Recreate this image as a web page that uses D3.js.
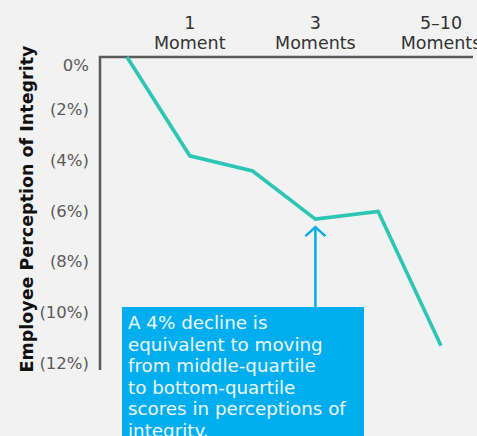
<!DOCTYPE html>
<html>
<head>
<meta charset="utf-8">
<script src="https://cdn.jsdelivr.net/npm/d3@7/dist/d3.min.js"></script>
<style>
  html, body { margin: 0; padding: 0; background: #f2f2f2; }
  svg { display: block; }
</style>
</head>
<body>
<svg id="chart" width="477" height="436"></svg>
<script>
// Number of integrity moments experienced (0 through 5–10)
const steps = [0, 1, 2, 3, 4, 5];
// Change in employee perception of integrity (%)
const perception = [0, -3.9, -4.5, -6.4, -6.1, -11.4];
// Column headers shown above the plot
const topTickSteps = [1, 3, 5];
const topTickLines = [["1", "Moment"], ["3", "Moments"], ["5–10", "Moments"]];
// Vertical axis ticks
const yTicks = [0, -2, -4, -6, -8, -10, -12];
const yTitle = "Employee Perception of Integrity";
const noteLines = [
  "A 4% decline is",
  "equivalent to moving",
  "from middle-quartile",
  "to bottom-quartile",
  "scores in perceptions of",
  "integrity."
];
const noteStep = 3;

const svg = d3.select("#chart");
const font = "'DejaVu Sans', sans-serif";
const teal = "#2dc5b3";
const blue = "#00aeef";
const axisGrey = "#5a5a5a";

const x = d3.scalePoint().domain(steps).range([127, 441]);
const y = d3.scaleLinear().domain([0, -12]).range([57, 361]);

// Axis frame: top rule and left rule
svg.append("line")
  .attr("x1", 99).attr("x2", 473).attr("y1", 57).attr("y2", 57)
  .attr("stroke", axisGrey).attr("stroke-width", 2.5);
svg.append("line")
  .attr("x1", 100).attr("x2", 100).attr("y1", 56).attr("y2", 370)
  .attr("stroke", axisGrey).attr("stroke-width", 2.5);

// Y tick labels
const fmt = v => v === 0 ? "0%" : `(${Math.abs(v)}%)`;
svg.append("g").selectAll("text")
  .data(yTicks)
  .join("text")
  .attr("x", 89)
  .attr("y", d => y(d) + (d === 0 ? 8 : 2))
  .attr("dy", "0.35em")
  .attr("text-anchor", "end")
  .attr("font-family", font)
  .attr("font-size", 16.5)
  .attr("fill", "#5a5a5a")
  .text(fmt);

// Column headers
const tg = svg.append("g").selectAll("text")
  .data(topTickSteps)
  .join("text")
  .attr("text-anchor", "middle")
  .attr("font-family", font)
  .attr("font-size", 17.5)
  .attr("fill", "#333");
tg.each(function(d, i) {
  const t = d3.select(this);
  topTickLines[i].forEach((s, j) => {
    t.append("tspan").attr("x", x(d)).attr("y", 29 + j * 20).text(s);
  });
});

// Y axis title
svg.append("text")
  .attr("transform", `translate(33,${(50 + 368) / 2}) rotate(-90)`)
  .attr("text-anchor", "middle")
  .attr("font-family", font)
  .attr("font-weight", "bold")
  .attr("font-size", 17.5)
  .attr("fill", "#111")
  .text(yTitle);

// Data line
const line = d3.line().x((d, i) => x(steps[i])).y(d => y(d));
svg.append("path")
  .datum(perception)
  .attr("d", line)
  .attr("fill", "none")
  .attr("stroke", teal)
  .attr("stroke-width", 3.6)
  .attr("stroke-linejoin", "miter");

// Callout box
const boxX = 122, boxY = 307, boxW = 242;
svg.append("rect")
  .attr("x", boxX).attr("y", boxY)
  .attr("width", boxW).attr("height", 140)
  .attr("fill", blue);
svg.append("text")
  .attr("font-family", font)
  .attr("font-size", 18.3)
  .attr("fill", "#eef8fc")
  .selectAll("tspan")
  .data(noteLines)
  .join("tspan")
  .attr("x", boxX + 6)
  .attr("y", (d, i) => boxY + 22 + i * 21.6)
  .text(d => d);

// Arrow pointing up at the marked point
const ax = x(steps[noteStep]);
const tipY = y(perception[noteStep]) + 8;
svg.append("line")
  .attr("x1", ax).attr("x2", ax).attr("y1", boxY).attr("y2", tipY)
  .attr("stroke", blue).attr("stroke-width", 2.5);
svg.append("path")
  .attr("d", `M${ax - 10},${tipY + 9} L${ax},${tipY} L${ax + 10},${tipY + 9}`)
  .attr("fill", "none")
  .attr("stroke", blue).attr("stroke-width", 2.5);
</script>
</body>
</html>
